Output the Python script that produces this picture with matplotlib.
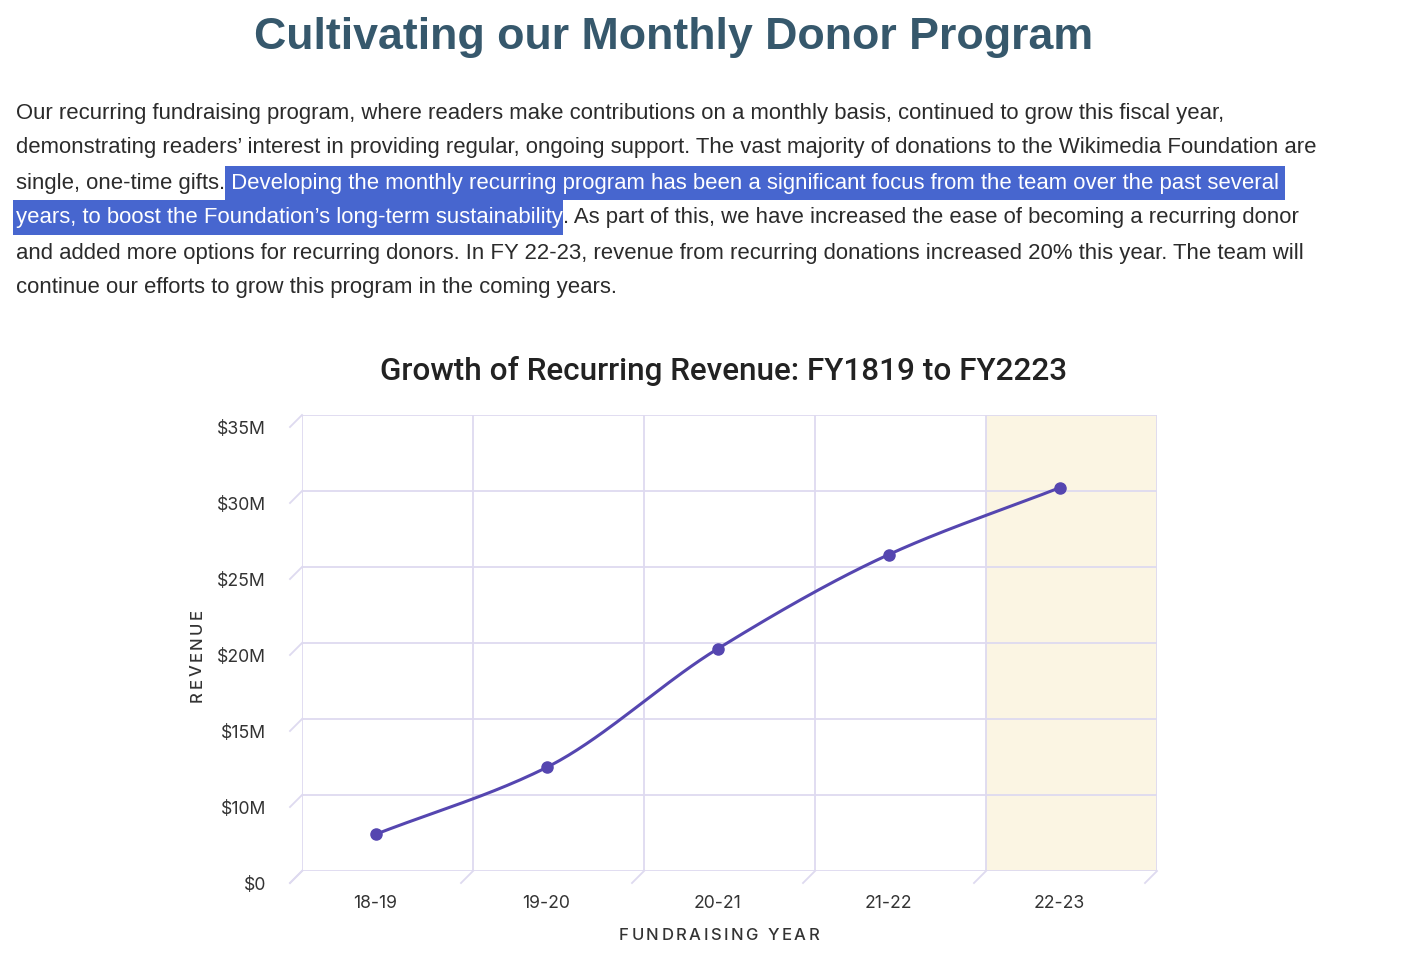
import numpy as np
import matplotlib
matplotlib.use("Agg")
import matplotlib.pyplot as plt
from matplotlib.patches import Rectangle
from matplotlib.transforms import ScaledTranslation
from matplotlib.font_manager import FontProperties

# data (value axis: the tick drawn at 5 is labelled "$0" in the original)
years = ["18-19", "19-20", "20-21", "21-22", "22-23"]
revenue = [8.2, 12.6, 20.4, 26.6, 31.0]
ytick_vals = [5, 10, 15, 20, 25, 30, 35]
ytick_labels = ["$0", "$10M", "$15M", "$20M", "$25M", "$30M", "$35M"]

heading = "Cultivating our Monthly Donor Program"
para_lines = [
    "Our recurring fundraising program, where readers make contributions on a monthly basis, continued to grow this fiscal year,",
    "demonstrating readers\u2019 interest in providing regular, ongoing support. The vast majority of donations to the Wikimedia Foundation are",
    None,
    None,
    "and added more options for recurring donors. In FY 22-23, revenue from recurring donations increased 20% this year. The team will",
    "continue our efforts to grow this program in the coming years.",
]
line3 = ("single, one-time gifts.", " Developing the monthly recurring program has been a significant focus from the team over the past several")
line4 = ("years, to boost the Foundation\u2019s long-term sustainability", ". As part of this, we have increased the ease of becoming a recurring donor")

W, H = 1426, 960
DPI = 100
fig = plt.figure(figsize=(W / DPI, H / DPI), dpi=DPI)
fig.patch.set_facecolor("white")

def fx(px):
    return px / W

def fy(py):
    return 1 - py / H

PURPLE = "#5546B0"
GRID = "#DEDAF0"
TXT = "#2B2B2B"
HL = "#4766CF"

# heading and paragraph
fig.text(fx(674), fy(37), heading, ha="center", va="center", fontsize=32.2,
         fontweight="bold", color="#36586C", family="Liberation Sans")

pfont = dict(fontsize=15.9, family="Liberation Sans", color=TXT, va="center")
line_y = [113, 148, 183, 218, 253, 288]
for y, s in zip(line_y, para_lines):
    if s:
        fig.text(fx(16), fy(y), s, **pfont)

fig.canvas.draw()
r = fig.canvas.get_renderer()

def segments(y, first, second, hl_first):
    t1 = fig.text(fx(16), fy(y), first, **pfont)
    bb = t1.get_window_extent(r)
    t2 = fig.text(bb.x1 / W, fy(y), second, **pfont)
    bb2 = t2.get_window_extent(r)
    hl_t, hl_bb = (t1, bb) if hl_first else (t2, bb2)
    hl_t.set_color("white")
    hl_t.set_zorder(3)
    return hl_bb

bb3 = segments(183, line3[0], line3[1], False)
bb4 = segments(218, line4[0], line4[1], True)
fig.patches.append(Rectangle((bb3.x0 / W, fy(200)), (bb3.x1 + 6 - bb3.x0) / W, 34 / H,
                             transform=fig.transFigure, facecolor=HL, edgecolor="none", zorder=1))
fig.patches.append(Rectangle((fx(13), fy(235)), (bb4.x1 - 13) / W, 35 / H,
                             transform=fig.transFigure, facecolor=HL, edgecolor="none", zorder=1))

# letter-spaced labels
def width_px(s, prop):
    w, _, _ = r.get_text_width_height_descent(s + "I", prop, ismath=False)
    wi, _, _ = r.get_text_width_height_descent("I", prop, ismath=False)
    return w - wi

def spaced_text(s, cx, cy, track, vertical=False, **kw):
    prop = FontProperties(family=kw.get("family"), size=kw.get("fontsize"), weight=kw.get("fontweight", "normal"))
    total = width_px(s, prop) + track * (len(s) - 1)
    for i, ch in enumerate(s):
        off = width_px(s[:i], prop) + track * i + width_px(ch, prop) / 2 - total / 2
        if vertical:
            fig.text(fx(cx), fy(cy - off), ch, ha="center", va="center", rotation=90, **kw)
        else:
            fig.text(fx(cx + off), fy(cy), ch, ha="center", va="center", **kw)

# chart
L, R, T, B = 302, 1157, 415, 871
ax = fig.add_axes([fx(L), fy(B), fx(R - L), (B - T) / H])
x = np.arange(len(years))
ax.set_xlim(-0.5, len(years) - 0.5)
ax.set_ylim(5, 35)
for s in ax.spines.values():
    s.set_visible(False)

ax.axvspan(3.5, 4.5, color="#FBF5E3", zorder=0)
for gx in np.arange(-0.5, len(years)):
    ax.axvline(gx, color=GRID, lw=1.3, zorder=1)
for gy in ytick_vals:
    ax.axhline(gy, color=GRID, lw=1.3, zorder=1)

# depth offset of the front plane (about 12px left and down)
d = 12 / DPI
front = ax.transData + ScaledTranslation(-d, -d, fig.dpi_scale_trans)

# small depth ticks
dx = 12 / ((R - L) / len(years))
dy = 12 / ((B - T) / 30)
for gy in ytick_vals:
    ax.plot([-0.5 - dx, -0.5], [gy - dy, gy], color=GRID, lw=1.3, clip_on=False)
for gx in np.arange(-0.5, len(years)):
    ax.plot([gx - dx, gx], [5 - dy, 5], color=GRID, lw=1.3, clip_on=False)

# smooth monotone curve through the points
def monotone(xs, ys, n=40):
    xs = np.asarray(xs, float)
    ys = np.asarray(ys, float)
    h = np.diff(xs)
    delta = np.diff(ys) / h
    m = np.zeros_like(ys)
    m[0], m[-1] = delta[0], delta[-1]
    for i in range(1, len(xs) - 1):
        if delta[i - 1] * delta[i] > 0:
            m[i] = 3 * (h[i - 1] + h[i]) / ((2 * h[i] + h[i - 1]) / delta[i - 1] + (h[i] + 2 * h[i - 1]) / delta[i])
    px, py = [], []
    for i in range(len(xs) - 1):
        t = np.linspace(0, 1, n)
        h00 = 2 * t**3 - 3 * t**2 + 1
        h10 = t**3 - 2 * t**2 + t
        h01 = -2 * t**3 + 3 * t**2
        h11 = t**3 - t**2
        px.append(xs[i] + t * h[i])
        py.append(h00 * ys[i] + h10 * h[i] * m[i] + h01 * ys[i + 1] + h11 * h[i] * m[i + 1])
    return np.concatenate(px), np.concatenate(py)

cx, cy = monotone(x, revenue)
ax.plot(cx, cy, color=PURPLE, lw=2.2, transform=front, zorder=3, clip_on=False)
ax.plot(x, revenue, "o", color=PURPLE, ms=8, transform=front, zorder=4, clip_on=False)

ax.set_xticks(x)
ax.set_xticklabels(years)
ax.set_yticks(ytick_vals)
ax.set_yticklabels(ytick_labels)
ax.tick_params(length=0, labelsize=12.7, labelcolor="#333333")
ax.tick_params(axis="x", pad=17)
ax.tick_params(axis="y", pad=26)
for lab in ax.get_xticklabels() + ax.get_yticklabels():
    lab.set_family("Inter")
for lab in ax.get_xticklabels():
    lab.set_transform(lab.get_transform() + ScaledTranslation(-d, 0, fig.dpi_scale_trans))
for lab in ax.get_yticklabels():
    lab.set_transform(lab.get_transform() + ScaledTranslation(0, -d, fig.dpi_scale_trans))

lab_kw = dict(fontsize=12, family="Inter", color="#333333", fontweight="medium")
spaced_text("FUNDRAISING YEAR", 719, 935, 2.5, **lab_kw)
spaced_text("REVENUE", 197, 655, 2.5, vertical=True, **lab_kw)
fig.text(fx(724), fy(371), "Growth of Recurring Revenue: FY1819 to FY2223", ha="center",
         va="center", fontsize=22.7, family="Roboto", fontweight="medium", color="#222222")

fig.savefig("out.png", dpi=DPI)
